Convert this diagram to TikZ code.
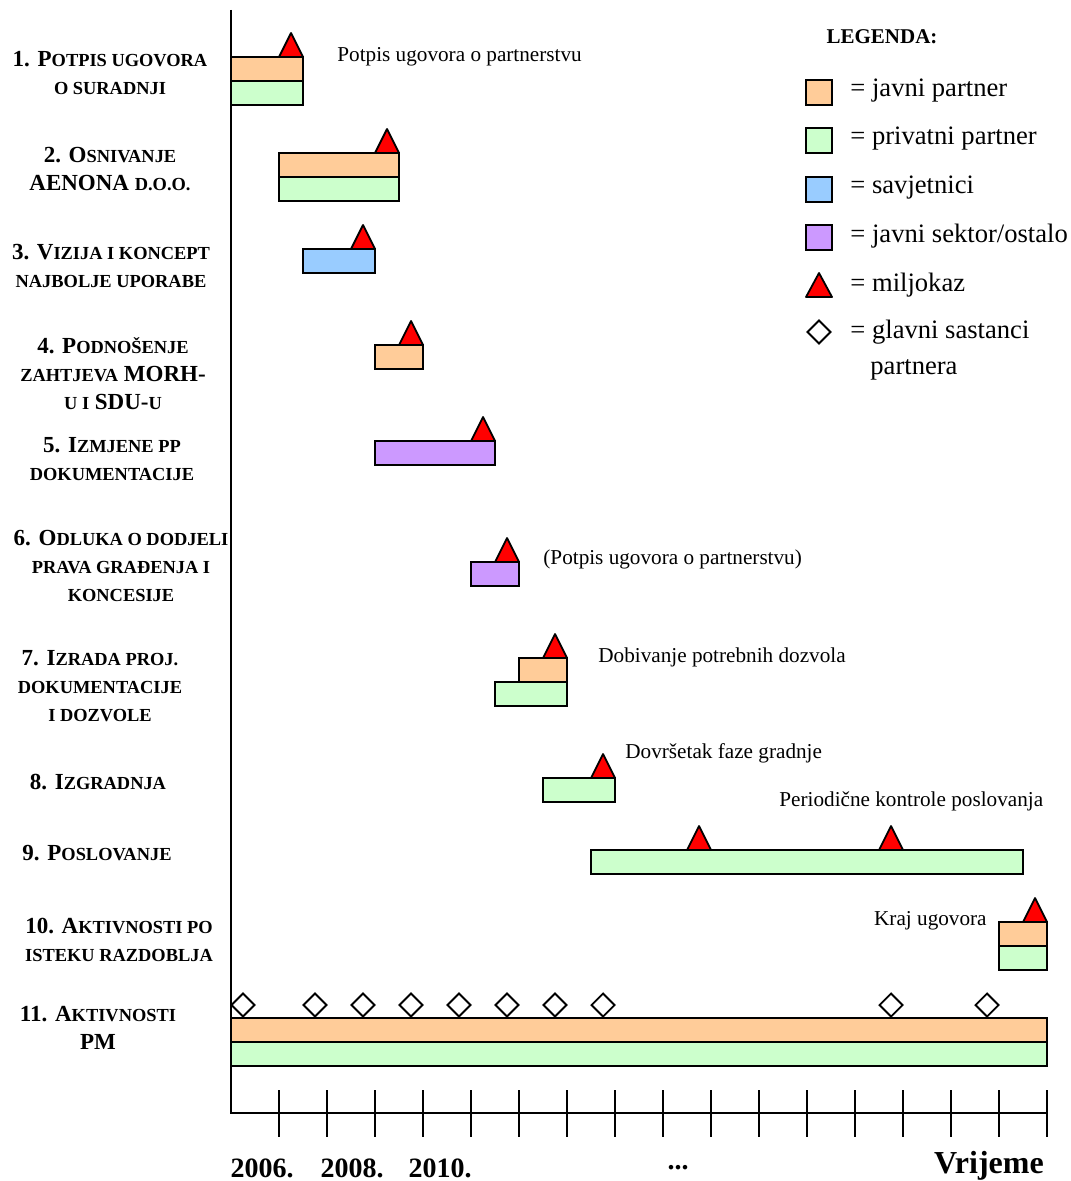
\documentclass[tikz,border=0pt]{standalone}
\usepackage{fontspec}
\setmainfont{Liberation Serif}
\usepackage{xcolor}
\usepackage{tikz}
\usetikzlibrary{positioning}
\definecolor{javni}{RGB}{255,204,153}
\definecolor{privatni}{RGB}{204,255,204}
\definecolor{savjet}{RGB}{153,204,255}
\definecolor{sektor}{RGB}{204,153,255}
\definecolor{miljred}{RGB}{255,0,0}
\newcommand{\smc}[1]{{\fontsize{9.2}{14}\selectfont #1}}
\tikzset{
  javnibar/.style={draw=black, fill=javni, line width=1pt},
  privbar/.style={draw=black, fill=privatni, line width=1pt},
  savjetbar/.style={draw=black, fill=savjet, line width=1pt},
  sektorbar/.style={draw=black, fill=sektor, line width=1pt},
  miljokaz/.pic={\draw[fill=miljred, line width=0.9pt, line join=round]
    (-12,0) -- (12,0) -- (0,-24) -- cycle;},
  sastanak/.pic={\draw[fill=white, line width=0.9pt]
    (-11.5,0) -- (0,11.5) -- (11.5,0) -- (0,-11.5) -- cycle;},
  aktivnost/.style={font=\fontsize{11.5}{14}\selectfont\bfseries,
    align=center, inner sep=0pt},
  biljeska/.style={font=\fontsize{10.6}{13}\selectfont, anchor=west, inner sep=0pt},
  legtext/.style={font=\fontsize{13.3}{16}\selectfont, anchor=west, inner sep=0pt},
  godina/.style={font=\fontsize{14}{16}\selectfont\bfseries, inner sep=0pt},
  os/.style={line width=1pt},
  crtica/.style={line width=0.8pt}
}

\begin{document}
\begin{tikzpicture}[x=0.5pt, y=-0.5pt]
  \useasboundingbox (0,0) rectangle (1070,1181);

  % Activity labels on the left
  \node[aktivnost] (akt1) at (110,73) {1. P\smc{OTPIS UGOVORA}\\ \smc{O SURADNJI}};
  \node[aktivnost] (akt2) at (110,169) {2. O\smc{SNIVANJE}\\ AENONA \smc{D.O.O.}};
  \node[aktivnost] (akt3) at (111,266) {3. V\smc{IZIJA I KONCEPT}\\ \smc{NAJBOLJE UPORABE}};
  \node[aktivnost] (akt4) at (113,374) {4. P\smc{ODNOŠENJE}\\ \smc{ZAHTJEVA} MORH-\\ \smc{U I} SDU-\smc{U}};
  \node[aktivnost] (akt5) at (112,459) {5. I\smc{ZMJENE PP}\\ \smc{DOKUMENTACIJE}};
  \node[aktivnost] (akt6) at (121,566) {6. O\smc{DLUKA O DODJELI}\\ \smc{PRAVA GRAĐENJA I}\\ \smc{KONCESIJE}};
  \node[aktivnost] (akt7) at (100,686) {7. I\smc{ZRADA PROJ.}\\ \smc{DOKUMENTACIJE}\\ \smc{I DOZVOLE}};
  \node[aktivnost] (akt8) at (98,782) {8. I\smc{ZGRADNJA}};
  \node[aktivnost] (akt9) at (97,853) {9. P\smc{OSLOVANJE}};
  \node[aktivnost] (akt10) at (119,940) {10. A\smc{KTIVNOSTI PO}\\ \smc{ISTEKU RAZDOBLJA}};
  \node[aktivnost] (akt11) at (98,1028) {11. A\smc{KTIVNOSTI}\\ PM};

  % Bars and milestones
  \pic at (291,57) {miljokaz};
  \draw[javnibar] (231,57) rectangle (303,81);
  \draw[privbar] (231,81) rectangle (303,105);

  \pic at (387,153) {miljokaz};
  \draw[javnibar] (279,153) rectangle (399,177);
  \draw[privbar] (279,177) rectangle (399,201);

  \pic at (363,249) {miljokaz};
  \draw[savjetbar] (303,249) rectangle (375,273);

  \pic at (411,345) {miljokaz};
  \draw[javnibar] (375,345) rectangle (423,369);

  \pic at (483,441) {miljokaz};
  \draw[sektorbar] (375,441) rectangle (495,465);

  \pic at (507,562) {miljokaz};
  \draw[sektorbar] (471,562) rectangle (519,586);

  \pic at (555,658) {miljokaz};
  \draw[javnibar] (519,658) rectangle (567,682);
  \draw[privbar] (495,682) rectangle (567,706);

  \pic at (603,778) {miljokaz};
  \draw[privbar] (543,778) rectangle (615,802);

  \pic at (699,850) {miljokaz};
  \pic at (891,850) {miljokaz};
  \draw[privbar] (591,850) rectangle (1023,874);

  \pic at (1035,922) {miljokaz};
  \draw[javnibar] (999,922) rectangle (1047,946);
  \draw[privbar] (999,946) rectangle (1047,970);

  \draw[javnibar] (231,1018) rectangle (1047,1042);
  \draw[privbar] (231,1042) rectangle (1047,1066);
  \foreach \sx in {243,315,363,411,459,507,555,603,891,987}
    \pic at (\sx,1005) {sastanak};

  % Notes next to milestones
  \node[biljeska] (bilj1) at (337,57) {Potpis ugovora o partnerstvu};
  \node[biljeska] (bilj6) at (543,559) {(Potpis ugovora o partnerstvu)};
  \node[biljeska] (bilj7) at (598,657) {Dobivanje potrebnih dozvola};
  \node[biljeska] (bilj8) at (625,753) {Dovršetak faze gradnje};
  \node[biljeska] (bilj9) at (779,801) {Periodične kontrole poslovanja};
  \node[biljeska, anchor=east] (bilj10) at (987,921) {Kraj ugovora};

  % Axes
  \draw[os] (231,10) -- (231,1113) -- (1047,1113);
  \foreach \k in {1,...,17}
    \draw[crtica] ({231+48*\k},1090) -- ({231+48*\k},1137);
  \node[godina] (g2006) at (262,1168) {2006.};
  \node[godina] (g2008) at (352,1168) {2008.};
  \node[godina] (g2010) at (440,1168) {2010.};
  \node[godina] (tocke) at (678,1168) {...};
  \node[godina, font=\fontsize{16}{18}\selectfont\bfseries] (vrijeme) at (989,1166) {Vrijeme};

  % Legend
  \node[font=\fontsize{10.5}{12}\selectfont\bfseries, inner sep=0pt] (legenda) at (882,37) {LEGENDA:};
  \draw[javnibar] (806,80) rectangle (832,105);
  \node[legtext] (leg1) at (850,91) {= javni partner};
  \draw[privbar] (806,128) rectangle (832,153);
  \node[legtext] (leg2) at (850,139) {= privatni partner};
  \draw[savjetbar] (806,177) rectangle (832,202);
  \node[legtext] (leg3) at (850,188) {= savjetnici};
  \draw[sektorbar] (806,225) rectangle (832,250);
  \node[legtext] (leg4) at (850,236) {= javni sektor/ostalo};
  \draw[fill=miljred, line width=0.9pt, line join=round] (806,297) -- (832,297) -- (819,273) -- cycle;
  \node[legtext] (leg5) at (850,285) {= miljokaz};
  \pic at (819,332) {sastanak};
  \node[legtext] (leg6) at (850,332) {= glavni sastanci};
  \node[legtext] (leg7) at (870,370) {partnera};
\end{tikzpicture}
\end{document}
